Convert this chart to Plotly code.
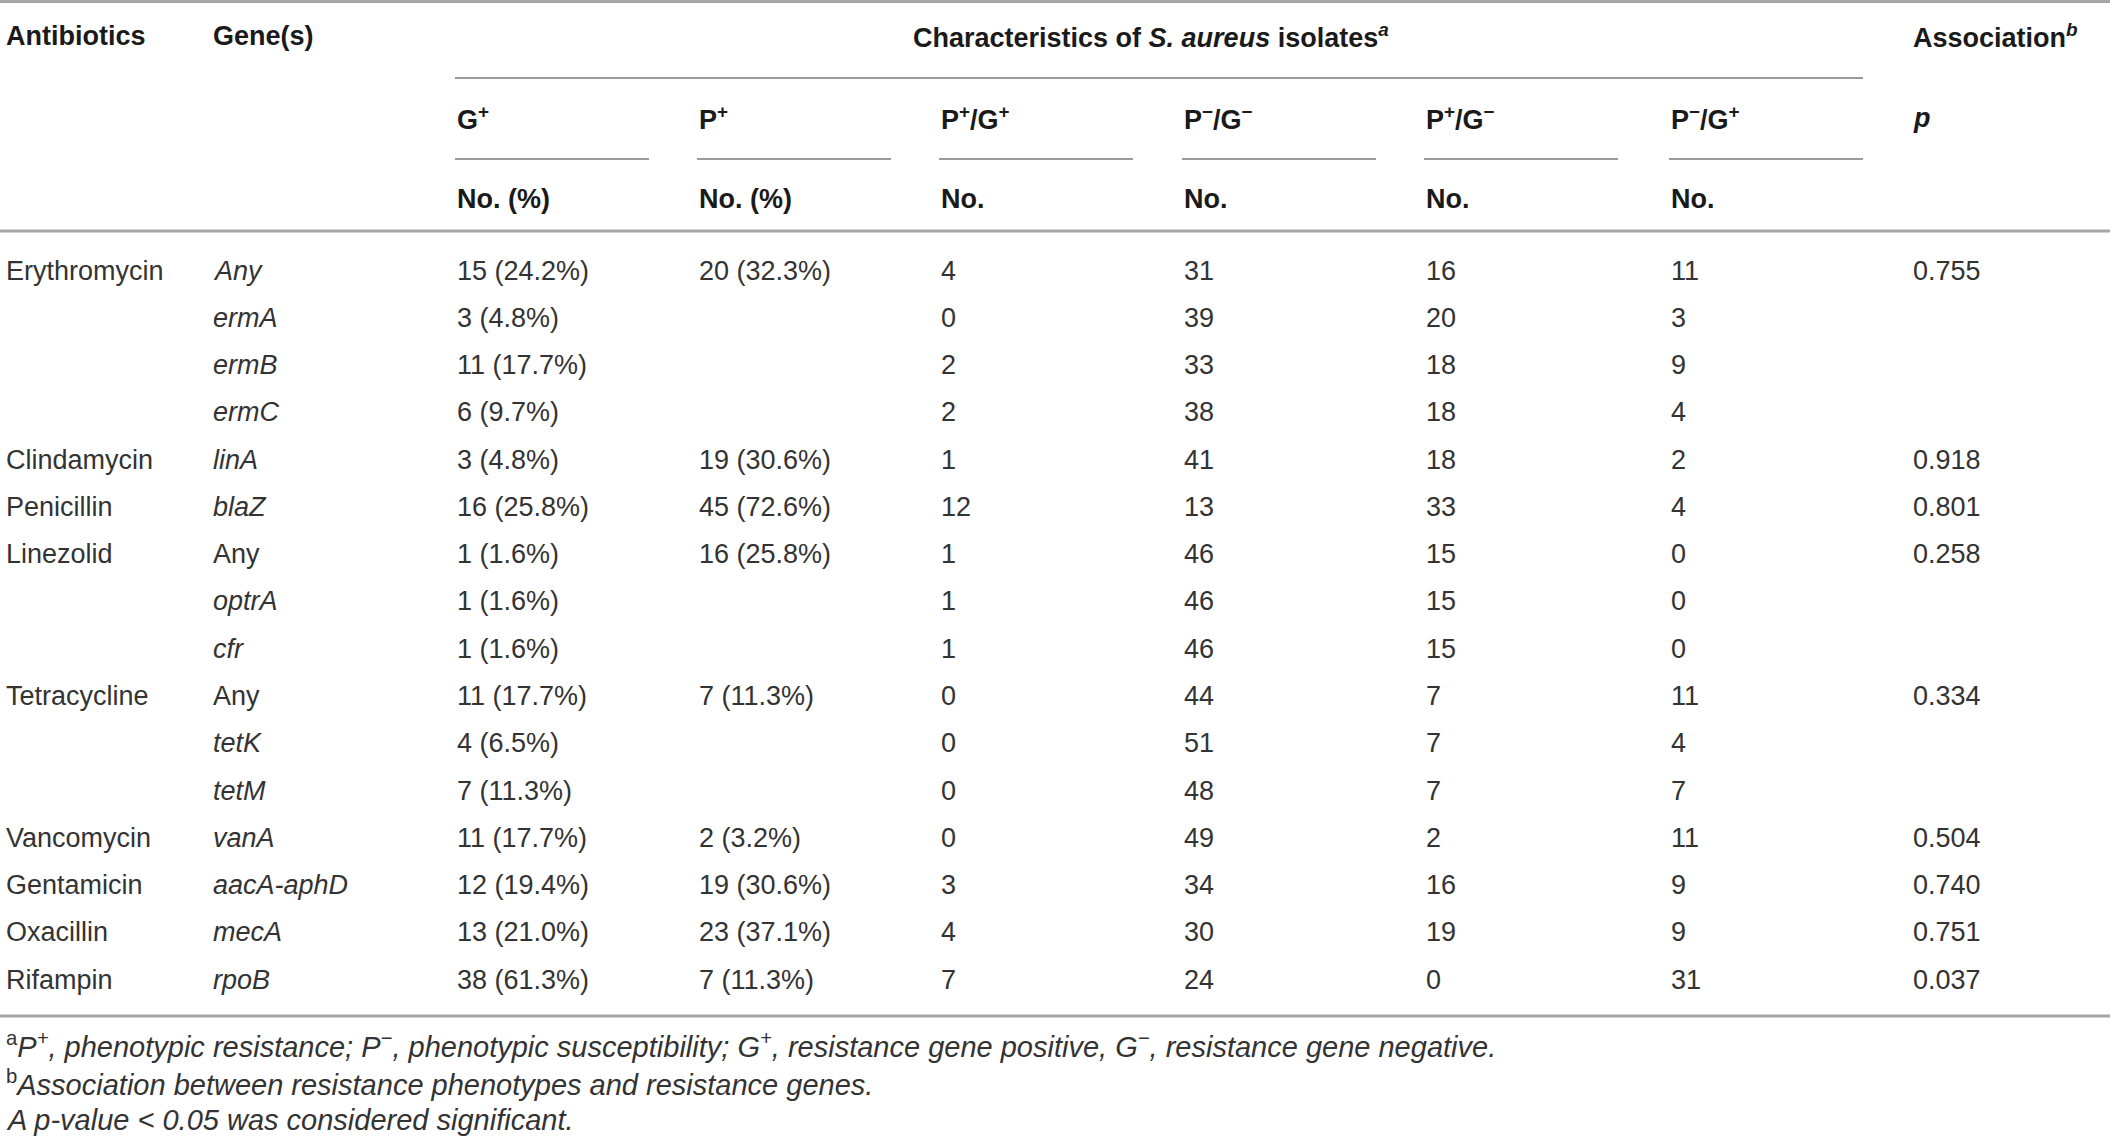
"""
Tableau : gènes de résistance et phénotypes des isolats de S. aureus.
"""

import plotly.graph_objects as go

# ---------------------------------------------------------------------------
# Données
# ---------------------------------------------------------------------------

ANTIBIOTICS = ["Erythromycin", "", "", "", "Clindamycin", "Penicillin", "Linezolid", "", "",
               "Tetracycline", "", "", "Vancomycin", "Gentamicin", "Oxacillin", "Rifampin"]
GENES = ["Any", "ermA", "ermB", "ermC", "linA", "blaZ", "Any", "optrA", "cfr",
         "Any", "tetK", "tetM", "vanA", "aacA-aphD", "mecA", "rpoB"]
GENE_ITALIC = [True, True, True, True, True, True, False, True, True,
               False, True, True, True, True, True, True]
G_POS_N = [15, 3, 11, 6, 3, 16, 1, 1, 1, 11, 4, 7, 11, 12, 13, 38]
G_POS_PCT = [24.2, 4.8, 17.7, 9.7, 4.8, 25.8, 1.6, 1.6, 1.6, 17.7, 6.5, 11.3, 17.7, 19.4, 21.0, 61.3]
P_POS_N = [20, None, None, None, 19, 45, 16, None, None, 7, None, None, 2, 19, 23, 7]
P_POS_PCT = [32.3, None, None, None, 30.6, 72.6, 25.8, None, None, 11.3, None, None, 3.2, 30.6, 37.1, 11.3]
PP_GP = [4, 0, 2, 2, 1, 12, 1, 1, 1, 0, 0, 0, 0, 3, 4, 7]
PM_GM = [31, 39, 33, 38, 41, 13, 46, 46, 46, 44, 51, 48, 49, 34, 30, 24]
PP_GM = [16, 20, 18, 18, 18, 33, 15, 15, 15, 7, 7, 7, 2, 16, 19, 0]
PM_GP = [11, 3, 9, 4, 2, 4, 0, 0, 0, 11, 4, 7, 11, 9, 9, 31]
P_VALUES = [0.755, None, None, None, 0.918, 0.801, 0.258, None, None,
            0.334, None, None, 0.504, 0.740, 0.751, 0.037]

SUB_HEADERS = ["G<sup>+</sup>", "P<sup>+</sup>", "P<sup>+</sup>/G<sup>+</sup>",
               "P<sup>−</sup>/G<sup>−</sup>", "P<sup>+</sup>/G<sup>−</sup>",
               "P<sup>−</sup>/G<sup>+</sup>"]
UNIT_HEADERS = ["No. (%)", "No. (%)", "No.", "No.", "No.", "No."]

FOOTNOTES = [
    "<sup>a</sup><i>P<sup>+</sup>, phenotypic resistance; P<sup>−</sup>, phenotypic susceptibility; "
    "G<sup>+</sup>, resistance gene positive, G<sup>−</sup>, resistance gene negative.</i>",
    "<sup>b</sup><i>Association between resistance phenotypes and resistance genes.</i>",
    "<i>A p-value &lt; 0.05 was considered significant.</i>",
]

# ---------------------------------------------------------------------------
# Mise en page (pixels)
# ---------------------------------------------------------------------------

W, H = 2110, 1137
COL_X = [4, 211, 455, 697, 939, 1182, 1424, 1669, 1911]
COL_W = 194
ROW0_Y = 270.5
ROW_DY = 47.28
FONT = "Liberation Sans, Arial, sans-serif"
FS = 27
TXT = "#333333"
HEAD = "#1a1a1a"


def fmt_np(n, pct):
    return "" if n is None else f"{n} ({pct:.1f}%)"


def main() -> None:
    fig = go.Figure()
    ann = []

    def text(x, y, s, color=TXT, size=FS):
        ann.append(dict(x=x, y=y, text=s, xanchor="left", yanchor="middle",
                        showarrow=False, font=dict(family=FONT, size=size, color=color)))

    # En-têtes
    text(COL_X[0], 36, "<b>Antibiotics</b>", HEAD)
    text(COL_X[1], 36, "<b>Gene(s)</b>", HEAD)
    ann.append(dict(x=(COL_X[2] + COL_X[7] + COL_W) / 2 - 8, y=36,
                    text="<b>Characteristics of <i>S. aureus</i> isolates<sup><i>a</i></sup></b>",
                    xanchor="center", yanchor="middle", showarrow=False,
                    font=dict(family=FONT, size=FS, color=HEAD)))
    text(COL_X[8], 36, "<b>Association<sup><i>b</i></sup></b>", HEAD)
    text(COL_X[8], 118, "<b><i>p</i></b>", HEAD)
    for i, (sh, uh) in enumerate(zip(SUB_HEADERS, UNIT_HEADERS)):
        text(COL_X[2 + i], 118, f"<b>{sh}</b>", HEAD)
        text(COL_X[2 + i], 199, f"<b>{uh}</b>", HEAD)

    # Lignes du tableau
    for r in range(len(GENES)):
        y = ROW0_Y + r * ROW_DY
        gene = f"<i>{GENES[r]}</i>" if GENE_ITALIC[r] else GENES[r]
        p = "" if P_VALUES[r] is None else f"{P_VALUES[r]:.3f}"
        cells = [ANTIBIOTICS[r], gene,
                 fmt_np(G_POS_N[r], G_POS_PCT[r]), fmt_np(P_POS_N[r], P_POS_PCT[r]),
                 str(PP_GP[r]), str(PM_GM[r]), str(PP_GM[r]), str(PM_GP[r]), p]
        for c, s in enumerate(cells):
            if s:
                text(COL_X[c], y, s)

    # Notes de bas de tableau
    for i, s in enumerate(FOOTNOTES):
        text(COL_X[0], 1045 + i * 37.5, s, TXT, 29)

    # Filets
    shapes = []
    thick = dict(color="#a6a6a6", width=3)
    thin = dict(color="#7a7a7a", width=1.6)
    for y in (1.5, 231, 1016):
        shapes.append(dict(type="line", x0=0, x1=W, y0=y, y1=y, line=thick))
    shapes.append(dict(type="line", x0=COL_X[2], x1=COL_X[7] + COL_W, y0=78, y1=78, line=thin))
    for i in range(6):
        shapes.append(dict(type="line", x0=COL_X[2 + i], x1=COL_X[2 + i] + COL_W,
                           y0=159, y1=159, line=thin))

    fig.update_layout(
        annotations=ann, shapes=shapes,
        xaxis=dict(range=[0, W], visible=False, fixedrange=True),
        yaxis=dict(range=[H, 0], visible=False, fixedrange=True),
        margin=dict(l=0, r=0, t=0, b=0),
        width=W, height=H,
        plot_bgcolor="white", paper_bgcolor="white",
        showlegend=False,
    )

    # Marge du <body> à zéro pour caler le tableau sur la fenêtre
    fig.write_html("out.html", post_script="document.body.style.margin='0';",
                   config={"displayModeBar": False})


if __name__ == "__main__":
    main()
